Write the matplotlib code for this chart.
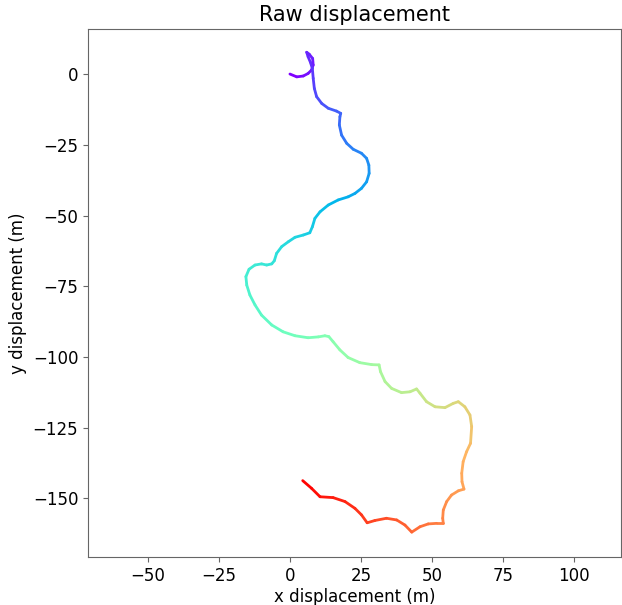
import numpy as np
import matplotlib
matplotlib.use('Agg')
import matplotlib.pyplot as plt
from matplotlib.collections import LineCollection

# trajectory (metres)
x_disp = [0.0, 2.4, 4.7, 6.4, 7.6, 8.2, 8.0, 6.8, 5.9, 6.4, 7.2, 7.9, 8.2, 8.6, 9.4,
          11.2, 13.5, 16.4, 17.9, 17.6, 17.4, 18.2, 20.0, 22.3, 25.2, 27.0, 27.8, 27.9,
          27.0, 25.2, 22.9, 20.5, 17.0, 13.5, 10.6, 8.8, 7.9, 7.0, 4.7, 1.8, -0.6, -2.9,
          -4.7, -5.5, -6.4, -8.2, -10.0, -12.3, -14.4, -15.5, -15.2, -14.1, -12.3, -10.0,
          -6.4, -2.4, 1.8, 6.4, 10.0, 12.3, 13.7, 15.2, 17.6, 20.5, 24.6, 28.8, 31.4,
          31.9, 33.5, 35.8, 39.3, 42.3, 44.6, 45.8, 48.1, 51.1, 54.6, 57.5, 59.3, 61.6,
          63.4, 64.0, 63.6, 62.2, 61.0, 60.5, 60.6, 61.3, 59.3, 56.9, 55.2, 54.0, 53.8,
          54.0, 51.7, 48.7, 45.8, 42.9, 40.5, 37.6, 34.0, 29.9, 27.2, 25.2, 22.9, 19.4,
          15.2, 10.6, 7.6, 4.5]
y_disp = [0.0, -1.0, -0.7, 0.2, 1.4, 3.2, 5.5, 7.0, 7.7, 6.1, 4.2, 2.0, -1.5, -5.1, -8.0,
          -10.4, -12.1, -13.1, -13.9, -15.1, -18.0, -21.6, -24.5, -26.6, -28.0, -29.8,
          -32.2, -35.1, -38.1, -40.4, -42.2, -43.4, -44.5, -46.3, -48.7, -51.0, -54.0,
          -56.1, -56.9, -57.7, -59.3, -61.0, -63.4, -66.0, -67.1, -67.5, -67.1, -67.5,
          -69.0, -71.6, -74.6, -78.1, -81.6, -85.2, -88.7, -91.1, -92.5, -93.2, -92.9,
          -92.5, -92.8, -94.6, -97.5, -100.2, -102.0, -102.7, -102.8, -105.2, -108.7,
          -111.1, -112.6, -112.3, -111.3, -112.8, -115.8, -117.6, -117.9, -116.4, -115.8,
          -117.6, -120.5, -124.6, -130.5, -133.5, -137.0, -141.1, -144.1, -146.7, -147.3,
          -148.8, -151.1, -154.1, -157.0, -158.8, -158.8, -159.0, -160.0, -161.9, -159.4,
          -157.6, -157.0, -157.8, -158.6, -155.8, -153.5, -151.1, -149.7, -149.4, -146.4,
          -143.7]

x_ticks = [-50, -25, 0, 25, 50, 75, 100]
y_ticks = [0, -25, -50, -75, -100, -125, -150]

x = np.array(x_disp)
y = np.array(y_disp)
pts = np.column_stack([x, y]).reshape(-1, 1, 2)
segs = np.concatenate([pts[:-1], pts[1:]], axis=1)

# colour along the path by travelled distance
step = np.hypot(np.diff(x), np.diff(y))
dist = np.concatenate([[0], np.cumsum(step)])
mid = (dist[:-1] + dist[1:]) / 2 / dist[-1]

fig = plt.figure(figsize=(6.22, 6.05), dpi=100)
ax = fig.add_axes([0.1415, 0.0793, 0.8565, 0.8727])

lc = LineCollection(segs, cmap='rainbow', linewidths=2.0, capstyle='round', joinstyle='round')
lc.set_array(mid)
lc.set_clim(0, 1)
ax.add_collection(lc)

ax.set_xlim(-71.1, 116.5)
ax.set_ylim(-170.7, 15.9)
ax.set_xticks(x_ticks)
ax.set_yticks(y_ticks)
ax.tick_params(labelsize=12, color='0.4')
for sp in ax.spines.values():
    sp.set_color('0.4')
ax.set_xlabel('x displacement (m)', fontsize=12, labelpad=2)
ax.set_ylabel('y displacement (m)', fontsize=12)
ax.set_title('Raw displacement', fontsize=15)

fig.savefig('out.png', dpi=100)
